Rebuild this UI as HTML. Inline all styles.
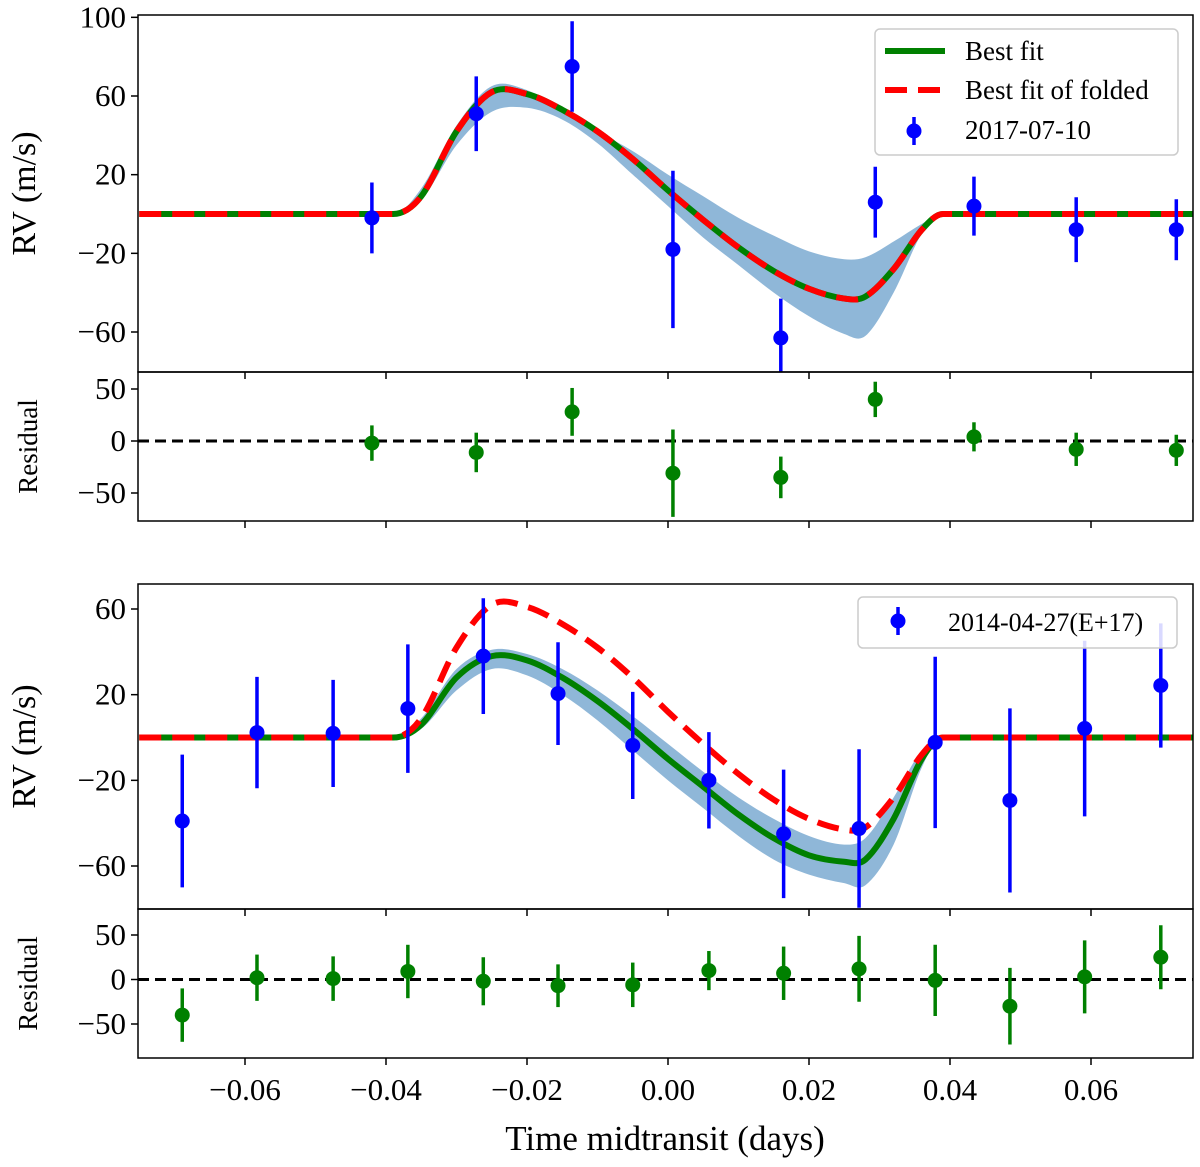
<!DOCTYPE html>
<html><head><meta charset="utf-8">
<style>
html,body{margin:0;padding:0;background:#fff;}
svg{display:block;font-family:"Liberation Serif","DejaVu Serif",serif;}
</style></head>
<body>
<svg id="chart" width="1200" height="1167" viewBox="0 0 1200 1167" xmlns="http://www.w3.org/2000/svg"></svg>
<script>
// ---- data ----
const modelT = [-0.075,-0.06,-0.045,-0.039,-0.035,-0.03,-0.025,-0.02,-0.015,-0.01,-0.005,0,0.005,0.01,0.015,0.02,0.025,0.028,0.032,0.036,0.039,0.045,0.06,0.075];
const foldedModel = [0,0,0,0,9,42,62,61,53,42,28,12,-3,-17,-29,-38,-43,-42,-28,-8,0,0,0,0];
const topBandUpper = [0,0,0,0,13,45,65,63,53,42,32,20,9,-2,-11,-19,-23,-22,-14,-5,0,0,0,0];
const topBandLower = [0,0,0,0,7,35,52,54,48,36,20,4,-12,-26,-40,-52,-61,-62,-40,-10,0,0,0,0];
const bottomModel = [0,0,0,0,6,28,38,36,28,17,4,-10,-23,-36,-47,-55,-58,-57,-38,-10,0,0,0,0];
const botBandUpper = [0,0,0,0,9,32,41,39,32,22,10,-3,-16,-28,-38,-46,-50,-47,-28,-6,0,0,0,0];
const botBandLower = [0,0,0,0,4,22,32,29,20,8,-6,-20,-33,-46,-57,-64,-68,-69,-50,-14,0,0,0,0];

const topT = [-0.042,-0.0272,-0.0136,0.0007,0.016,0.0294,0.0434,0.0579,0.0721];
const topRV = [-2,51,75,-18,-63,6,4,-8,-8];
const topErr = [18,19,23,40,20,18,15,16.5,15.5];
const topRes = [-2,-11,28,-31,-35,40,4,-8,-9];
const topResErr = [17,19,23,42,20,17,14,16,15];

const botT = [-0.0689,-0.0583,-0.0475,-0.0369,-0.0262,-0.0156,-0.005,0.0058,0.0164,0.0271,0.0379,0.0485,0.0591,0.0699];
const botRV = [-39,2.3,1.9,13.5,38,20.5,-3.7,-20,-45,-42.5,-2.3,-29.4,4.2,24.3];
const botErr = [31,26,25,30,27,24,25,22.5,30,37,40,43,41,29];
const botRes = [-40,2,1,9,-2,-7,-6,10,7,12,-1,-30,3,25];
const botResErr = [30,26,25,30,27,24,25,22,30,37,40,43,41,36];

const xTicks = [-0.06,-0.04,-0.02,0.00,0.02,0.04,0.06];
const xTickLabels = ["\u22120.06","\u22120.04","\u22120.02","0.00","0.02","0.04","0.06"];
const topYTicks = [100,60,20,-20,-60];
const botYTicks = [60,20,-20,-60];
const resYTicks = [50,0,-50];

// ---- helpers ----
const NS="http://www.w3.org/2000/svg";
const svg=document.getElementById('chart');
function el(tag,attrs,parent){const e=document.createElementNS(NS,tag);for(const k in attrs)e.setAttribute(k,attrs[k]);(parent||svg).appendChild(e);return e;}
const X0=138,X1=1193;
const xScale=t=>668+t*7050;
function yLin(v0,p0,v1,p1){return v=>p0+(v-v0)*(p1-p0)/(v1-v0);}
function smoothPath(pts,cont){
  const n=pts.length;
  const m=pts.map((p,i)=>{
    const a=pts[Math.max(0,i-1)],b=pts[Math.min(n-1,i+1)];
    if(Math.abs(a[1]-p[1])<1e-6||Math.abs(b[1]-p[1])<1e-6)return 0;
    const dx=b[0]-a[0];return dx===0?0:(b[1]-a[1])/dx;
  });
  let d=(cont?' L':'M')+`${pts[0][0]},${pts[0][1]}`;
  for(let i=0;i<n-1;i++){
    const p1=pts[i],p2=pts[i+1],h=(p2[0]-p1[0])/3;
    d+=` C${p1[0]+h},${p1[1]+m[i]*h} ${p2[0]-h},${p2[1]-m[i+1]*h} ${p2[0]},${p2[1]}`;
  }
  return d;
}
function panel(name,y0,y1,ys,yticks,ylabel,labelSize,showX){
  const defs=el('defs',{});
  const cp=el('clipPath',{id:'clip-'+name},defs);
  el('rect',{x:X0,y:y0,width:X1-X0,height:y1-y0},cp);
  const g=el('g',{'clip-path':`url(#clip-${name})`});
  
  
  const ax=el('g',{});
  
  
  yticks.forEach(v=>{
    const y=ys(v);
    el('line',{x1:X0-7,x2:X0,y1:y,y2:y,stroke:'#000','stroke-width':1.5},ax);
    const t=el('text',{x:X0-12,y:y+10,'text-anchor':'end','font-size':31},ax);
    t.textContent=v<0?'\u2212'+Math.abs(v):String(v);
    
    
  });
  xTicks.forEach((v,i)=>{
    const x=xScale(v);
    el('line',{x1:x,x2:x,y1:y1,y2:y1+7,stroke:'#000','stroke-width':1.5},ax);
    if(showX){
      const t=el('text',{x:x,y:y1+42,'text-anchor':'middle','font-size':31},ax);
      t.textContent=xTickLabels[i];
      
      
    }
  });
  const yl=el('text',{transform:`translate(${labelSize>30?35:37},${(y0+y1)/2}) rotate(-90)`,'text-anchor':'middle','font-size':labelSize},ax);
  yl.textContent=ylabel;
  
  
  return {g,ax,frame:()=>{const r=el('rect',{x:X0,y:y0,width:X1-X0,height:y1-y0,fill:'none',stroke:'#000','stroke-width':1.5});}};
}
function band(g,ys,up,lo,name){
  const pu=modelT.map((t,i)=>[xScale(t),ys(up[i])]);
  const pl=modelT.map((t,i)=>[xScale(t),ys(lo[i])]).reverse();
  const d=smoothPath(pu,false)+smoothPath(pl,true)+' Z';
  const p=el('path',{d,fill:'#8fb7d8',stroke:'none'},g);
  
  
}
function curve(g,ys,vals,color,dash,name){
  const pts=modelT.map((t,i)=>[xScale(t),ys(vals[i])]);
  const a={d:smoothPath(pts,false),fill:'none',stroke:color,'stroke-width':6};
  if(dash)a['stroke-dasharray']=dash;
  const p=el('path',a,g);
  
  
}
function points(g,ys,ts,vs,es,color,r,name){
  ts.forEach((t,i)=>{
    const x=xScale(t);
    const l=el('line',{x1:x,x2:x,y1:ys(vs[i]+es[i]),y2:ys(vs[i]-es[i]),stroke:color,'stroke-width':3.5},g);
    
    
    const c=el('circle',{cx:x,cy:ys(vs[i]),r:r,fill:color},g);
    
    
  });
}
function zeroLine(g,ys){
  const l=el('line',{x1:X0,x2:X1,y1:ys(0),y2:ys(0),stroke:'#000','stroke-width':3,'stroke-dasharray':'11,6'},g);
  
  
}

// ---- top main ----
const ysTop=yLin(0,214,-60,332);
let P=panel('top-rv',15,372,ysTop,topYTicks,'RV (m/s)',34,false);
band(P.g,ysTop,topBandUpper,topBandLower,'top-confidence-band');
curve(P.g,ysTop,foldedModel,'#008000',null,'top-best-fit-line');
curve(P.g,ysTop,foldedModel,'#ff0000','22,11','top-folded-fit-line');
points(P.g,ysTop,topT,topRV,topErr,'#0000ff',7.5,'top-rv');
P.frame();
const lg=el('g',{});


el('rect',{x:875,y:29,width:303,height:126,rx:5,fill:'#fff','fill-opacity':0.85,stroke:'#ccc','stroke-width':1.5},lg);
el('line',{x1:885,x2:945,y1:51,y2:51,stroke:'#008000','stroke-width':6},lg);
el('line',{x1:885,x2:945,y1:90,y2:90,stroke:'#ff0000','stroke-width':6,'stroke-dasharray':'22,11'},lg);
el('line',{x1:914,x2:914,y1:117,y2:145,stroke:'#0000ff','stroke-width':3.5},lg);
el('circle',{cx:914,cy:131,r:7.5,fill:'#0000ff'},lg);
[['Best fit',60],['Best fit of folded',99],['2017-07-10',139]].forEach(([s,y])=>{const t=el('text',{x:965,y:y,'font-size':27},lg);t.textContent=s;});

// ---- top residual ----
const ysTR=yLin(50,389,-50,493);
P=panel('top-residual',372,521,ysTR,resYTicks,'Residual',27,false);
zeroLine(P.g,ysTR);
points(P.g,ysTR,topT,topRes,topResErr,'#008000',7.5,'top-residual');
P.frame();

// ---- bottom main ----
const ysBot=yLin(60,609,-60,866);
P=panel('bottom-rv',584,909,ysBot,botYTicks,'RV (m/s)',34,false);
band(P.g,ysBot,botBandUpper,botBandLower,'bottom-confidence-band');
curve(P.g,ysBot,bottomModel,'#008000',null,'bottom-best-fit-line');
curve(P.g,ysBot,foldedModel,'#ff0000','22,11','bottom-folded-fit-line');
points(P.g,ysBot,botT,botRV,botErr,'#0000ff',7.5,'bottom-rv');
P.frame();
const lg2=el('g',{});


el('rect',{x:858,y:597,width:319,height:51,rx:5,fill:'#fff','fill-opacity':0.85,stroke:'#ccc','stroke-width':1.5},lg2);
el('line',{x1:898,x2:898,y1:607,y2:635,stroke:'#0000ff','stroke-width':3.5},lg2);
el('circle',{cx:898,cy:621,r:7.5,fill:'#0000ff'},lg2);
let lt=el('text',{x:948,y:631,'font-size':26},lg2);lt.textContent='2014-04-27(E+17)';



// ---- bottom residual ----
const ysBR=yLin(50,935,-50,1024);
P=panel('bottom-residual',909,1058,ysBR,resYTicks,'Residual',27,true);
zeroLine(P.g,ysBR);
points(P.g,ysBR,botT,botRes,botResErr,'#008000',7.5,'bottom-residual');
P.frame();

const xt=el('text',{x:665,y:1150,'text-anchor':'middle','font-size':35});
xt.textContent='Time midtransit (days)';


</script>
</body></html>
